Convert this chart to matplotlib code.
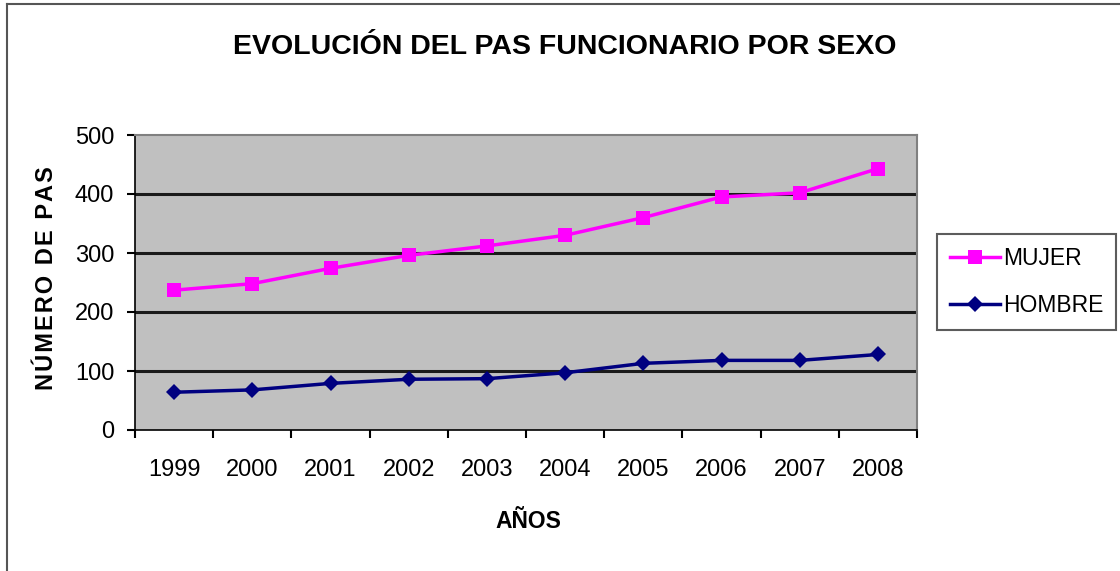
import matplotlib
matplotlib.use("Agg")
import matplotlib.pyplot as plt
from matplotlib.lines import Line2D

# Data
years = ["1999", "2000", "2001", "2002", "2003", "2004", "2005", "2006", "2007", "2008"]
mujer = [237, 248, 274, 296, 312, 330, 360, 395, 402, 443]
hombre = [64, 68, 79, 86, 87, 97, 113, 118, 118, 128]
y_ticks = [0, 100, 200, 300, 400, 500]

title = "EVOLUCIÓN DEL PAS FUNCIONARIO POR SEXO"
x_title = "AÑOS"
y_title = "NÚMERO DE PAS"

plt.rcParams["font.family"] = ["Liberation Sans", "DejaVu Sans"]

W, H = 1120, 571
fig = plt.figure(figsize=(W / 100, H / 100), dpi=100)
fig.patch.set_facecolor("white")

# frame lines along left and top edges
fig.add_artist(Line2D([7 / W, 7 / W], [0, 1 - 4 / H], color="#555555", lw=1.5, transform=fig.transFigure))
fig.add_artist(Line2D([7 / W, 1], [1 - 4 / H, 1 - 4 / H], color="#555555", lw=1.5, transform=fig.transFigure))

left, right = 135 / W, 917 / W
bottom, top = 1 - 430 / H, 1 - 135 / H
ax = fig.add_axes([left, bottom, right - left, top - bottom])
ax.set_facecolor("#C0C0C0")

x = list(range(len(years)))
ax.set_xlim(-0.5, len(years) - 0.5)
ax.set_ylim(0, 500)

for v in y_ticks[1:-1]:
    ax.axhline(v, color="#1a1a1a", lw=2.2, zorder=1)

ax.plot(x, mujer, color="#FF00FF", lw=2.5, marker="s", markersize=10,
        markeredgewidth=0, label="MUJER", zorder=3)
ax.plot(x, hombre, color="#000080", lw=2.5, marker="D", markersize=8.5,
        markeredgewidth=0, label="HOMBRE", zorder=3)

for side in ["top", "right"]:
    ax.spines[side].set_color("#808080")
    ax.spines[side].set_linewidth(1.5)
for side in ["left", "bottom"]:
    ax.spines[side].set_color("#000000")
    ax.spines[side].set_linewidth(1.2)

ax.set_yticks(y_ticks)
ax.set_yticklabels([str(v) for v in y_ticks])
ax.set_xticks([i - 0.5 for i in range(len(years) + 1)])
ax.set_xticklabels([])
ax.set_xticks(x, minor=True)
ax.set_xticklabels(years, minor=True)
ax.tick_params(axis="y", direction="out", length=6, width=1.5, pad=9, labelsize=17, colors="black")
ax.tick_params(axis="x", which="major", direction="out", length=6, width=1.5, colors="black")
ax.tick_params(axis="x", which="minor", length=0, pad=21, labelsize=17, colors="black")

fig.text(565 / W, 1 - 47 / H, title, ha="center", va="center", fontsize=20.5, fontweight="bold")
fig.text(528 / W, 1 - 521 / H, x_title, ha="center", va="center", fontsize=16.5, fontweight="bold")
fig.text(47 / W, 1 - 278 / H, "\u200a".join(y_title), ha="center", va="center",
         rotation=90, fontsize=17, fontweight="bold")

leg = ax.legend(loc="center left", bbox_to_anchor=(937 / W, 1 - 282 / H),
                bbox_transform=fig.transFigure, frameon=True, fancybox=False,
                fontsize=16.5, handlelength=2.2, handletextpad=0.15, labelspacing=1.05,
                borderpad=0.55, borderaxespad=0)
leg.get_frame().set_edgecolor("#333333")
leg.get_frame().set_linewidth(1.5)

fig.savefig("out.png", dpi=100)
